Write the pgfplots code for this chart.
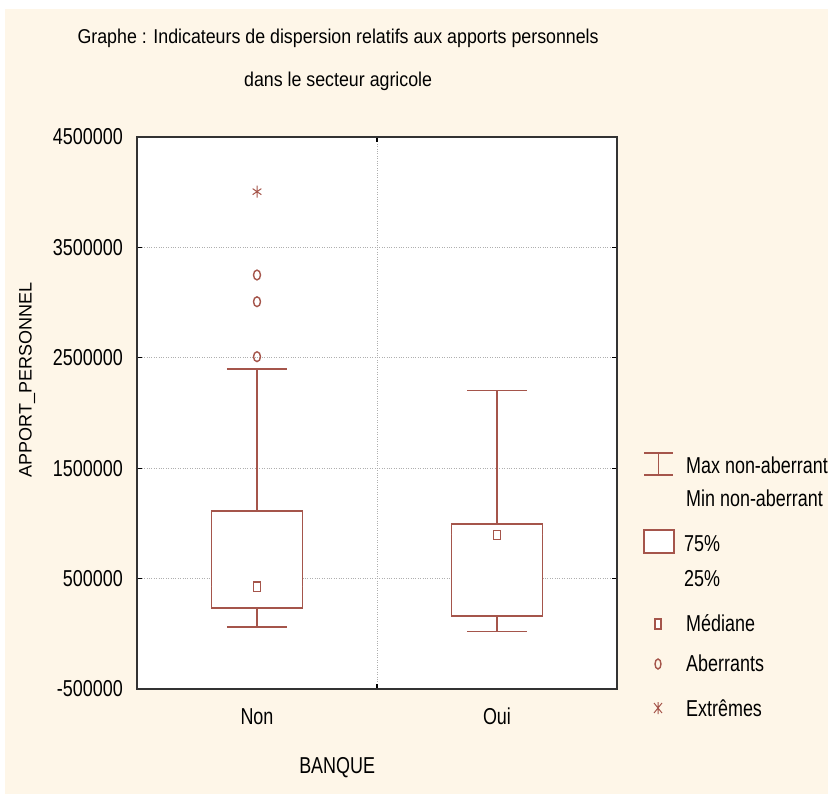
\documentclass[border=0pt]{standalone}
\usepackage{fontspec}
\setmainfont{Liberation Sans}[FakeStretch=0.78]
\newfontfamily\titlefont{Liberation Sans}[FakeStretch=0.89]
\newfontfamily\plainfont{Liberation Sans}
\usepackage{pgfplots}
\pgfplotsset{compat=1.18}
\usepgfplotslibrary{statistics}

\definecolor{bgc}{RGB}{254,246,232}
\definecolor{boxc}{RGB}{165,85,75}
\definecolor{gridc}{RGB}{175,175,175}

\begin{document}
\begin{tikzpicture}
  \useasboundingbox (0pt,0pt) rectangle (828pt,-794pt);
  \fill[white] (0pt,0pt) rectangle (828pt,-794pt);
  \fill[bgc] (5pt,-9pt) rectangle (828pt,-794pt);

  % values in millions (APPORT_PERSONNEL / 1e6)
  \begin{axis}[
    at={(137pt,-137pt)}, anchor=north west,
    scale only axis, width=480pt, height=552pt,
    axis background/.style={fill=white},
    axis line style={line width=1.5pt, black!80},
    xmin=-0.5, xmax=1.5, ymin=-0.5, ymax=4.5,
    xtick={0.5}, xticklabels={},
    extra x ticks={0,1}, extra x tick labels={Non,Oui},
    extra x tick style={major tick length=0pt, grid=none},
    ytick={-0.5,0.5,1.5,2.5,3.5,4.5},
    yticklabels={-500000,500000,1500000,2500000,3500000,4500000},
    tick align=inside, major tick length=5pt,
    tick style={black, line width=1.2pt},
    xmajorgrids, ymajorgrids,
    grid style={gridc, dotted, line width=1pt},
    y tick label style={inner sep=0pt, xshift=-14pt},
    x tick label style={inner sep=0pt, yshift=-19pt},
    tick label style={font=\fontsize{23}{23}\selectfont},
    title={Graphe : Indicateurs de dispersion relatifs aux apports personnels\\dans le secteur agricole},
    title style={at={(axis description cs:0.419,1.1295)}, anchor=center, align=center,
      font=\titlefont\fontsize{20}{43}\selectfont},
    xlabel={BANQUE},
    xlabel style={at={(axis description cs:0.417,-0.143)}, anchor=center,
      font=\fontsize{23}{23}\selectfont},
    ylabel={APPORT\_PERSONNEL},
    ylabel style={at={(axis description cs:-0.229,0.56)}, anchor=center,
      font=\plainfont\fontsize{18}{18}\selectfont},
    boxplot/draw direction=y,
    boxplot/every median/.style={draw=none},
    boxplot/every box/.style={draw=boxc, fill=white, line width=1.6pt},
    boxplot/every whisker/.style={draw=boxc, line width=1.6pt},
  ]
  % Non
  \addplot[draw=boxc, fill=white, line width=1.6pt,
    boxplot prepared={lower whisker=0.064, lower quartile=0.231, median=0.425,
      upper quartile=1.115, upper whisker=2.400,
      draw position=0, box extend=0.38, whisker extend=0.25}] coordinates {};
  % Oui
  \addplot[draw=boxc, fill=white, line width=1.6pt,
    boxplot prepared={lower whisker=0.019, lower quartile=0.161, median=0.895,
      upper quartile=0.995, upper whisker=2.202,
      draw position=1, box extend=0.38, whisker extend=0.25}] coordinates {};
  % medians
  \addplot[only marks, mark=square, mark size=3.5pt,
    mark options={draw=boxc, fill=white, line width=1.4pt, yscale=1.35}]
    coordinates {(0,0.425) (1,0.895)};
  % outliers
  \addplot[only marks, mark=o, mark size=3.5pt,
    mark options={draw=boxc, line width=1.4pt, yscale=1.4}]
    coordinates {(0,2.510) (0,3.008) (0,3.250)};
  % extremes
  \addplot[only marks, mark=asterisk, mark size=5pt,
    mark options={draw=boxc, line width=1pt, yscale=1.2}]
    coordinates {(0,4.005)};
  \end{axis}

  % legend
  \begin{scope}[boxc, line width=1.6pt]
    \draw (644pt,-453pt) -- (673pt,-453pt);
    \draw (644pt,-475pt) -- (673pt,-475pt);
    \draw (658.5pt,-453pt) -- (658.5pt,-475pt);
    \draw[fill=white] (644pt,-530pt) rectangle (674pt,-553pt);
    \draw[fill=white, line width=1.4pt] (655pt,-619pt) rectangle (661pt,-629pt);
    \draw[line width=1.4pt] (658pt,-664pt) ellipse (3pt and 5pt);
    \draw[line width=1pt] (654pt,-703pt) -- (662pt,-713pt) (654pt,-713pt) -- (662pt,-703pt)
      (658pt,-702pt) -- (658pt,-714pt);
  \end{scope}
  \begin{scope}[every node/.style={anchor=base west, inner sep=0pt,
      font=\fontsize{23}{23}\selectfont}]
    \node at (686pt,-474pt) {Max non-aberrant};
    \node at (686pt,-506pt) {Min non-aberrant};
    \node at (684pt,-551pt) {75\%};
    \node at (684pt,-586pt) {25\%};
    \node at (686pt,-631pt) {Médiane};
    \node at (686pt,-671pt) {Aberrants};
    \node at (686pt,-716pt) {Extrêmes};
  \end{scope}
\end{tikzpicture}
\end{document}
